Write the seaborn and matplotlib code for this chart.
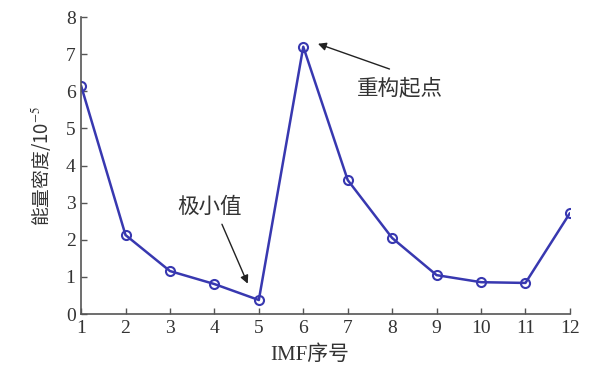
import matplotlib
matplotlib.use("Agg")
import matplotlib.pyplot as plt
import seaborn as sns
import pandas as pd

imf_index = [1, 2, 3, 4, 5, 6, 7, 8, 9, 10, 11, 12]
energy_density = [6.15, 2.13, 1.16, 0.81, 0.38, 7.2, 3.61, 2.05, 1.05, 0.86, 0.84, 2.72]
x_ticks = [1, 2, 3, 4, 5, 6, 7, 8, 9, 10, 11, 12]
y_ticks = [0, 1, 2, 3, 4, 5, 6, 7, 8]

sns.set_theme(style="ticks")
plt.rcParams['font.family'] = ['Liberation Serif', 'Noto Sans CJK SC', 'DejaVu Sans']
plt.rcParams['mathtext.fontset'] = 'stix'

df = pd.DataFrame({"imf": imf_index, "e": energy_density})

fig = plt.figure(figsize=(6.05, 3.70), dpi=100)
ax = fig.add_axes([0.134, 0.151, 0.808, 0.803])

line_color = "#3838b0"
sns.lineplot(data=df, x="imf", y="e", ax=ax, color=line_color, linewidth=1.8,
             marker="o", markersize=6.5, markerfacecolor="none",
             markeredgecolor=line_color, markeredgewidth=1.5)

ax.set_xlim(1, 12)
ax.set_ylim(0, 8)
ax.set_xticks(x_ticks)
ax.set_yticks(y_ticks)
ax.tick_params(direction="in", length=4, width=1, colors="#555555",
               labelsize=14, labelcolor="#333333", pad=4)
for s in ["top", "right"]:
    ax.spines[s].set_visible(False)
for s in ["left", "bottom"]:
    ax.spines[s].set_color("#555555")
    ax.spines[s].set_linewidth(1.2)

ax.set_xlabel("IMF序号", fontsize=15, color="#333333",
              family=['Liberation Serif', 'Noto Sans CJK SC'])
ax.xaxis.set_label_coords(0.468, -0.105)
ax.set_ylabel("能量密度/10$^{-5}$", fontsize=13.5, color="#333333", labelpad=9,
              family=['Noto Sans CJK SC', 'DejaVu Sans'])

arrow = dict(arrowstyle="-|>", color="#222222", lw=1.0, mutation_scale=12,
             shrinkA=0, shrinkB=0)

ax.text(3.9, 2.6, "极小值", fontsize=15.5, color="#333333", ha="center",
        va="bottom", family=['Noto Sans CJK SC'])
ax.annotate("", xy=(4.75, 0.82), xytext=(4.17, 2.42), arrowprops=arrow)

ax.text(7.2, 6.08, "重构起点", fontsize=15.5, color="#333333", ha="left",
        va="center", family=['Noto Sans CJK SC'])
ax.annotate("", xy=(6.33, 7.28), xytext=(7.94, 6.6), arrowprops=arrow)

fig.savefig("out.png", dpi=100, facecolor="white")
